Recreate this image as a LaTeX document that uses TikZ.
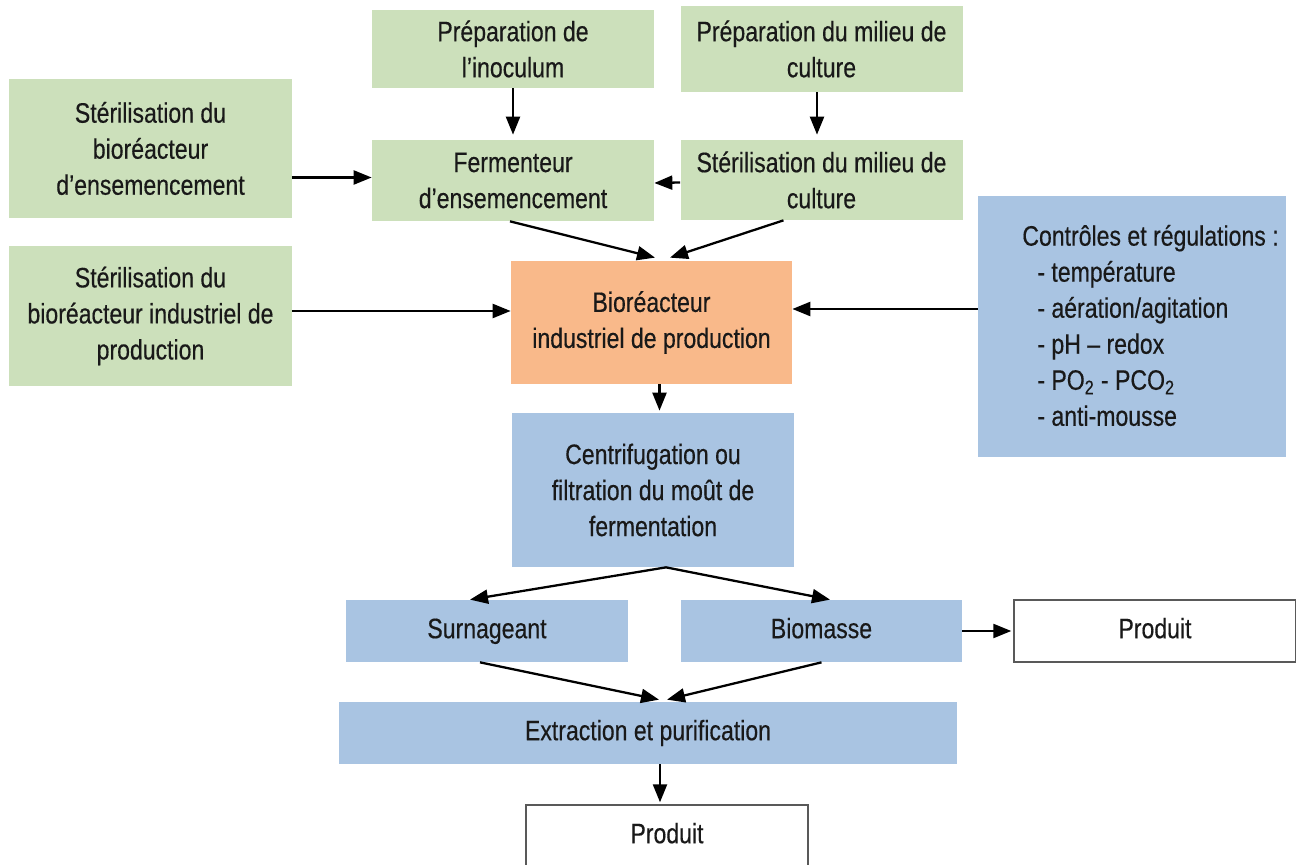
\documentclass[tikz,border=0pt]{standalone}
\usepackage{fontspec}
\setmainfont{Liberation Sans}[FakeStretch=0.82,FakeBold=0.4]
\usetikzlibrary{arrows.meta}

\definecolor{vert}{RGB}{204,224,187}
\definecolor{orange}{RGB}{249,185,138}
\definecolor{bleu}{RGB}{169,196,226}

\begin{document}
\begin{tikzpicture}[
  font=\fontsize{16}{20.5}\selectfont,
  base/.style={inner sep=0pt, align=center, text=black!90},
  vbox/.style={base, fill=vert, minimum width=5.64cm},
  bbox/.style={base, fill=bleu},
  pbox/.style={base, fill=white, draw=black!65, line width=0.8pt, minimum width=5.64cm},
  fl/.style={-{Triangle[length=3.6mm,width=2.8mm]}, line width=1.3pt}
]
  \clip (0,0) rectangle (25.92,-17.30);

  \node[vbox,minimum height=1.56cm] (inoc) at (10.26,-0.98) {Préparation de\\l’inoculum};
  \node[vbox,minimum height=1.72cm] (milieu) at (16.43,-0.98) {Préparation du milieu de\\culture};
  \node[vbox,minimum height=2.78cm] (sterens) at (3.01,-2.97) {Stérilisation du\\bioréacteur\\d’ensemencement};
  \node[vbox,minimum height=1.62cm] (ferm) at (10.26,-3.61) {Fermenteur\\d’ensemencement};
  \node[vbox,minimum height=1.60cm] (stermil) at (16.43,-3.60) {Stérilisation du milieu de\\culture};
  \node[vbox,minimum height=2.80cm] (sterind) at (3.01,-6.32) {Stérilisation du\\bioréacteur industriel de\\production};
  \node[base,fill=orange,minimum width=5.62cm,minimum height=2.46cm] (bioreac) at (13.03,-6.45) {Bioréacteur\\industriel de production};
  \node[bbox,minimum width=6.16cm,minimum height=5.22cm] (ctrl) at (22.64,-6.53) {};
  \node[base,anchor=west,align=left] (ctrltxt) at (20.44,-6.51) {Contrôles et régulations :\\
    \hspace*{0.3cm}- température\\
    \hspace*{0.3cm}- aération/agitation\\
    \hspace*{0.3cm}- pH – redox\\
    \hspace*{0.3cm}- PO\textsubscript{2} - PCO\textsubscript{2}\\
    \hspace*{0.3cm}- anti-mousse};
  \node[bbox,minimum width=5.64cm,minimum height=3.08cm] (centri) at (13.06,-9.80) {Centrifugation ou\\filtration du moût de\\fermentation};
  \node[bbox,minimum width=5.64cm,minimum height=1.24cm] (surn) at (9.74,-12.62) {\strut Surnageant};
  \node[bbox,minimum width=5.62cm,minimum height=1.24cm] (biom) at (16.43,-12.62) {\strut Biomasse};
  \node[pbox,minimum height=1.24cm] (prod1) at (23.10,-12.62) {\strut Produit};
  \node[bbox,minimum width=12.36cm,minimum height=1.24cm] (extr) at (12.96,-14.66) {\strut Extraction et purification};
  \node[pbox,minimum height=1.24cm] (prod2) at (13.34,-16.72) {\strut Produit};

  \draw[fl] (inoc.south) -- ([yshift=0.1cm]ferm.north);
  \draw[fl] ([xshift=-0.09cm]milieu.south) -- ([xshift=-0.09cm,yshift=0.1cm]stermil.north);
  \draw[fl] ([yshift=0.06cm]sterens.east |- ferm.west) -- ([yshift=0.06cm]ferm.west);
  \draw[fl] ([yshift=-0.05cm]stermil.west) -- ([yshift=-0.05cm]ferm.east);
  \draw[fl] ([xshift=-0.06cm]ferm.south) -- ([xshift=0.07cm,yshift=0.06cm]bioreac.north);
  \draw[fl] ([xshift=-0.76cm]stermil.south) -- ([xshift=0.37cm,yshift=0.06cm]bioreac.north);
  \draw[fl] ([yshift=0.1cm]sterind.east) -- ([yshift=0.1cm]sterind.east -| bioreac.west);
  \draw[fl] ([yshift=0.35cm]ctrl.west) -- ([yshift=0.35cm]ctrl.west -| bioreac.east);
  \draw[fl] ([xshift=0.16cm]bioreac.south) -- ([xshift=0.16cm,yshift=0.04cm]bioreac.south |- centri.north);
  \draw[fl] ([xshift=0.26cm]centri.south) -- ([xshift=-0.34cm]surn.north);
  \draw[fl] ([xshift=0.26cm]centri.south) -- ([xshift=0.17cm]biom.north);
  \draw[fl] ([xshift=-0.14cm]surn.south) -- ([xshift=0.22cm,yshift=0.04cm]extr.north);
  \draw[fl] (biom.south) -- ([xshift=0.38cm,yshift=0.04cm]extr.north);
  \draw[fl] (biom.east) -- ([xshift=-0.04cm]prod1.west);
  \draw[fl] ([xshift=0.24cm]extr.south) -- ([xshift=0.24cm,yshift=0.04cm]extr.south |- prod2.north);
\end{tikzpicture}
\end{document}
